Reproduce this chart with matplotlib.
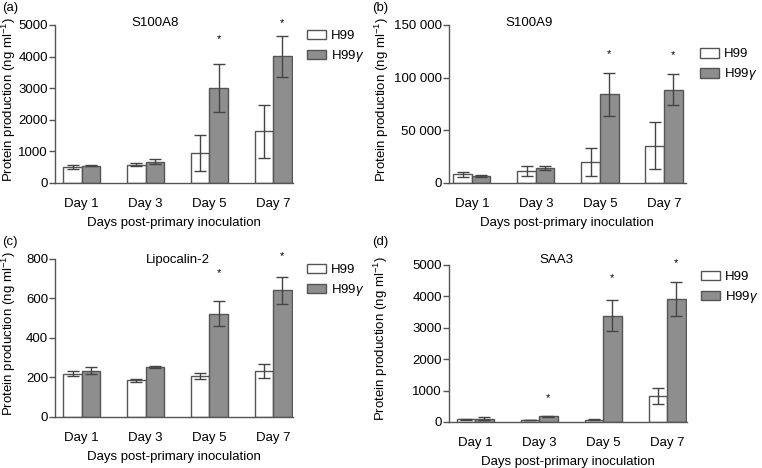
import numpy as np
import matplotlib
matplotlib.use("Agg")
import matplotlib.pyplot as plt

plt.rcParams["font.family"] = ["Liberation Sans", "DejaVu Sans"]
plt.rcParams["mathtext.fontset"] = "custom"
plt.rcParams["mathtext.rm"] = "Liberation Sans"
plt.rcParams["mathtext.it"] = "Liberation Sans:italic"
plt.rcParams["font.size"] = 9

days = ["Day 1", "Day 3", "Day 5", "Day 7"]

# S100A8
a_h99 = [510, 583, 964, 1631]
a_h99_err = [60, 45, 570, 840]
a_h99g = [550, 678, 2998, 4004]
a_h99g_err = [12, 90, 760, 635]
a_star_x = [2, 3]
a_star_y = [4555, 5064]

# S100A9
b_h99 = [8300, 11400, 20000, 35300]
b_h99_err = [2200, 5000, 13200, 22400]
b_h99g = [6700, 14300, 84200, 88700]
b_h99g_err = [1000, 1800, 20300, 15000]
b_star_x = [2, 3]
b_star_y = [122400, 121100]

# Lipocalin-2
c_h99 = [220, 185, 207, 234]
c_h99_err = [11, 9, 17, 36]
c_h99g = [234, 252, 524, 641]
c_h99g_err = [17, 6, 61, 70]
c_star_x = [2, 3]
c_star_y = [729, 814]

# SAA3
d_h99 = [85, 53, 74, 826]
d_h99_err = [10, 5, 10, 245]
d_h99g = [106, 180, 3379, 3919]
d_h99g_err = [50, 20, 490, 530]
d_star_x = [1, 2, 3]
d_star_y = [763, 4576, 5064]

EDGE = "#555555"
GREY = "#8e8e8e"


def draw_panel(ax, h99, h99_err, h99g, h99g_err, star_x, star_y,
               ymax, yticks, yticklabels, title, title_xy, xlim,
               ylabel_x, legend_y):
    x = np.arange(len(days))
    w = 0.29
    ax.bar(x - w / 2, h99, w, color="white", edgecolor=EDGE, linewidth=1,
           label="H99", zorder=2)
    ax.bar(x + w / 2, h99g, w, color=GREY, edgecolor=EDGE, linewidth=1,
           label=r"H99$\gamma$", zorder=2)
    ax.errorbar(x - w / 2, h99, yerr=h99_err, fmt="none", ecolor="#444444",
                elinewidth=1, capsize=4, capthick=1, zorder=3)
    ax.errorbar(x + w / 2, h99g, yerr=h99g_err, fmt="none", ecolor="#444444",
                elinewidth=1, capsize=4, capthick=1, zorder=3)
    for sx, sy in zip(star_x, star_y):
        ax.text(sx + w / 2, sy, "*", ha="center", va="center", fontsize=8)

    ax.set_xlim(*xlim)
    ax.set_ylim(0, ymax)
    ax.set_yticks(yticks)
    ax.set_yticklabels(yticklabels)
    ax.set_xticks(x)
    ax.set_xticklabels(days)
    ax.tick_params(axis="x", length=0, pad=11, labelsize=9.5)
    ax.tick_params(axis="y", length=4, width=1, color=EDGE, labelsize=9.5, pad=1)
    for s in ["top", "right"]:
        ax.spines[s].set_visible(False)
    for s in ["left", "bottom"]:
        ax.spines[s].set_color(EDGE)
        ax.spines[s].set_linewidth(1)
    ax.set_xlabel("Days post-primary inoculation", fontsize=9.5, labelpad=5)
    ax.set_ylabel(r"Protein production (ng ml$^{-1}$)", fontsize=9.5)
    ax.yaxis.set_label_coords(ylabel_x, 0.53)
    ax.text(title_xy[0], title_xy[1], title, transform=ax.transAxes,
            ha="center", va="center", fontsize=9.5)
    ax.legend(loc="upper left", bbox_to_anchor=(1.01, legend_y), frameon=False,
              handlelength=1.4, handleheight=0.75, labelspacing=0.45,
              handletextpad=0.4, fontsize=9.5)


fig = plt.figure(figsize=(7.62, 4.68), dpi=100)

ax_a = fig.add_axes([0.0722, 0.609, 0.3123, 0.3376])
ax_b = fig.add_axes([0.589, 0.609, 0.311, 0.3376])
ax_c = fig.add_axes([0.0722, 0.109, 0.3123, 0.3376])
ax_d = fig.add_axes([0.589, 0.0983, 0.3126, 0.3355])

draw_panel(ax_a, a_h99, a_h99_err, a_h99g, a_h99g_err, a_star_x, a_star_y,
           5000, [0, 1000, 2000, 3000, 4000, 5000],
           ["0", "1000", "2000", "3000", "4000", "5000"],
           "S100A8", (0.42, 1.013), (-0.42, 3.31), -0.155, 1.045)
draw_panel(ax_b, b_h99, b_h99_err, b_h99g, b_h99g_err, b_star_x, b_star_y,
           150000, [0, 50000, 100000, 150000],
           ["0", "50 000", "100 000", "150 000"],
           "S100A9", (0.34, 1.013), (-0.36, 3.34), -0.245, 0.93)
draw_panel(ax_c, c_h99, c_h99_err, c_h99g, c_h99g_err, c_star_x, c_star_y,
           800, [0, 200, 400, 600, 800],
           ["0", "200", "400", "600", "800"],
           "Lipocalin-2", (0.517, 0.994), (-0.42, 3.31), -0.155, 1.045)
draw_panel(ax_d, d_h99, d_h99_err, d_h99g, d_h99g_err, d_star_x, d_star_y,
           5000, [0, 1000, 2000, 3000, 4000, 5000],
           ["0", "1000", "2000", "3000", "4000", "5000"],
           "SAA3", (0.45, 1.03), (-0.41, 3.31), -0.245, 1.04)

fig.text(0.003, 0.983, "(a)", ha="left", va="center", fontsize=9.5)
fig.text(0.489, 0.983, "(b)", ha="left", va="center", fontsize=9.5)
fig.text(0.003, 0.483, "(c)", ha="left", va="center", fontsize=9.5)
fig.text(0.489, 0.483, "(d)", ha="left", va="center", fontsize=9.5)

fig.savefig("out.png", dpi=100)
